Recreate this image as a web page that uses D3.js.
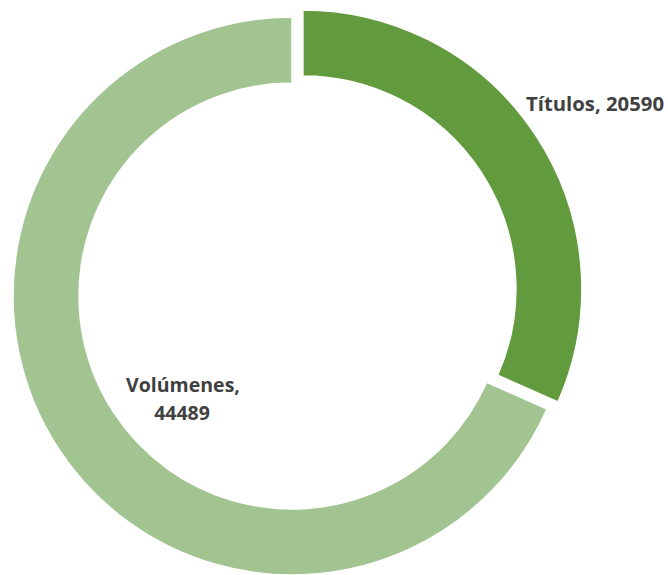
<!DOCTYPE html>
<html>
<head>
<meta charset="utf-8">
<script src="https://cdn.jsdelivr.net/npm/d3@7"></script>
<style>
  html, body { margin: 0; padding: 0; background: #ffffff; }
  svg { display: block; }
</style>
</head>
<body>
<svg id="chart" width="668" height="575"></svg>
<script>
const categories = ["Títulos", "Volúmenes"];
const values = [20590, 44489];
const colors = ["#629B3E", "#A1C490"];
const explode = [13, 0];

const svg = d3.select("#chart");
const cx = 292, cy = 296, outerR = 279, innerR = 213;

const pie = d3.pie().sort(null).value(d => d.value);
const arcs = pie(categories.map((c, i) => ({ cat: c, value: values[i], i })));
const arc = d3.arc().innerRadius(innerR).outerRadius(outerR);

const g = svg.append("g").attr("transform", `translate(${cx},${cy})`);
g.selectAll("path").data(arcs).join("path")
  .attr("d", arc)
  .attr("fill", d => colors[d.data.i])
  .attr("stroke", "#ffffff")
  .attr("stroke-width", 1.5)
  .attr("transform", d => {
    const a = (d.startAngle + d.endAngle) / 2;
    const e = explode[d.data.i];
    return `translate(${Math.sin(a) * e},${-Math.cos(a) * e})`;
  });

const font = "'Open Sans', 'Liberation Sans', sans-serif";
svg.append("text")
  .attr("x", 526).attr("y", 111)
  .attr("font-family", font).attr("font-weight", "bold")
  .attr("font-size", 19.5).attr("fill", "#404040")
  .attr("textLength", 138).attr("lengthAdjust", "spacingAndGlyphs")
  .text(`${categories[0]}, ${values[0]}`);

const t2 = svg.append("text")
  .attr("font-family", font).attr("font-weight", "bold")
  .attr("font-size", 19.5).attr("fill", "#404040")
  .attr("text-anchor", "middle");
t2.append("tspan").attr("x", 183).attr("y", 392).text(`${categories[1]},`);
t2.append("tspan").attr("x", 182).attr("y", 420).text(`${values[1]}`);
</script>
</body>
</html>
